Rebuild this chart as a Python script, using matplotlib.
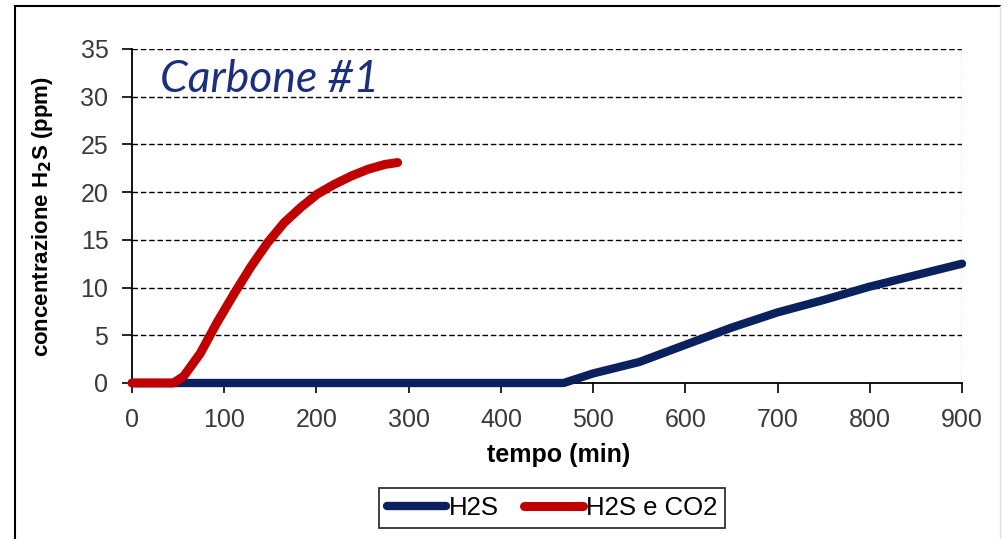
import matplotlib
matplotlib.use("Agg")
import matplotlib.pyplot as plt
from matplotlib.lines import Line2D

# data
blue_t = [0, 468, 500, 550, 600, 650, 700, 750, 800, 850, 900]
blue_y = [0, 0, 1.0, 2.2, 4.0, 5.8, 7.4, 8.7, 10.1, 11.3, 12.5]
red_t = [0, 45, 56, 74, 92, 111, 129, 147, 165, 183, 201, 219, 238, 256, 274, 288]
red_y = [0, 0, 0.7, 3.1, 6.3, 9.4, 12.2, 14.7, 16.8, 18.4, 19.8, 20.8, 21.7, 22.4, 22.9, 23.1]
x_ticks = [0, 100, 200, 300, 400, 500, 600, 700, 800, 900]
y_ticks = [0, 5, 10, 15, 20, 25, 30, 35]
series_names = ["H2S", "H2S e CO2"]

plt.rcParams['font.family'] = ['Liberation Sans', 'DejaVu Sans']

W, H = 1008, 539
fig = plt.figure(figsize=(W/100, H/100), dpi=100)
ax = fig.add_axes([132/W, 1-383/H, (962-132)/W, (383-49)/H])

for y in y_ticks[1:]:
    ax.axhline(y, color='black', lw=1.0, ls=(0, (4, 2)), zorder=1)
ax.axvline(900, color='#888888', lw=1.0, ls=(0, (1, 1.5)), zorder=1)

ax.plot(blue_t, blue_y, color='#0b215e', lw=6, solid_capstyle='round',
        label=series_names[0], zorder=3, clip_on=False)
ax.plot(red_t, red_y, color='#c00000', lw=6.5, solid_capstyle='round',
        label=series_names[1], zorder=4, clip_on=False)

ax.set_xlim(0, 900)
ax.set_ylim(0, 35)
ax.set_xticks(x_ticks)
ax.set_yticks(y_ticks)
for s in ['top', 'right']:
    ax.spines[s].set_visible(False)
for s in ['left', 'bottom']:
    ax.spines[s].set_linewidth(1.3)
ax.tick_params(axis='both', direction='out', length=7, width=1.2,
               labelsize=18, labelcolor='#3a3a3a')
ax.tick_params(axis='y', pad=10)
ax.tick_params(axis='x', pad=11)

fig.text(559/W, 1-455/H, 'tempo (min)', ha='center', va='center',
         fontsize=18, fontweight='bold')
fig.text(43/W, 1-217/H, 'concentrazione H$_\\mathbf{2}$S (ppm)', rotation=90,
         ha='center', va='center', fontsize=16, fontweight='bold')

fig.text(160/W, 1-92/H, 'Carbone #1', fontsize=32, style='italic',
         color='#1c2f7c', family=['Lato', 'DejaVu Sans'], va='baseline')

leg = fig.legend(loc='center', bbox_to_anchor=(552/W, 1-508/H), ncol=2,
                 fontsize=18.5, frameon=True, fancybox=False, handlelength=2.3,
                 handletextpad=0.1, columnspacing=1.0, borderpad=0.3,
                 borderaxespad=0)
leg.get_frame().set_edgecolor('black')
leg.get_frame().set_linewidth(1.3)

# outer frame of the picture
fig.add_artist(Line2D([15/W, 15/W], [0, 1-6/H], color='black', lw=1.5))
fig.add_artist(Line2D([15/W, 1000/W], [1-6/H, 1-6/H], color='black', lw=1.5))
fig.add_artist(Line2D([1000/W, 1000/W], [0, 1-6/H], color='#dddddd', lw=1.0))

fig.savefig('out.png', dpi=100)
